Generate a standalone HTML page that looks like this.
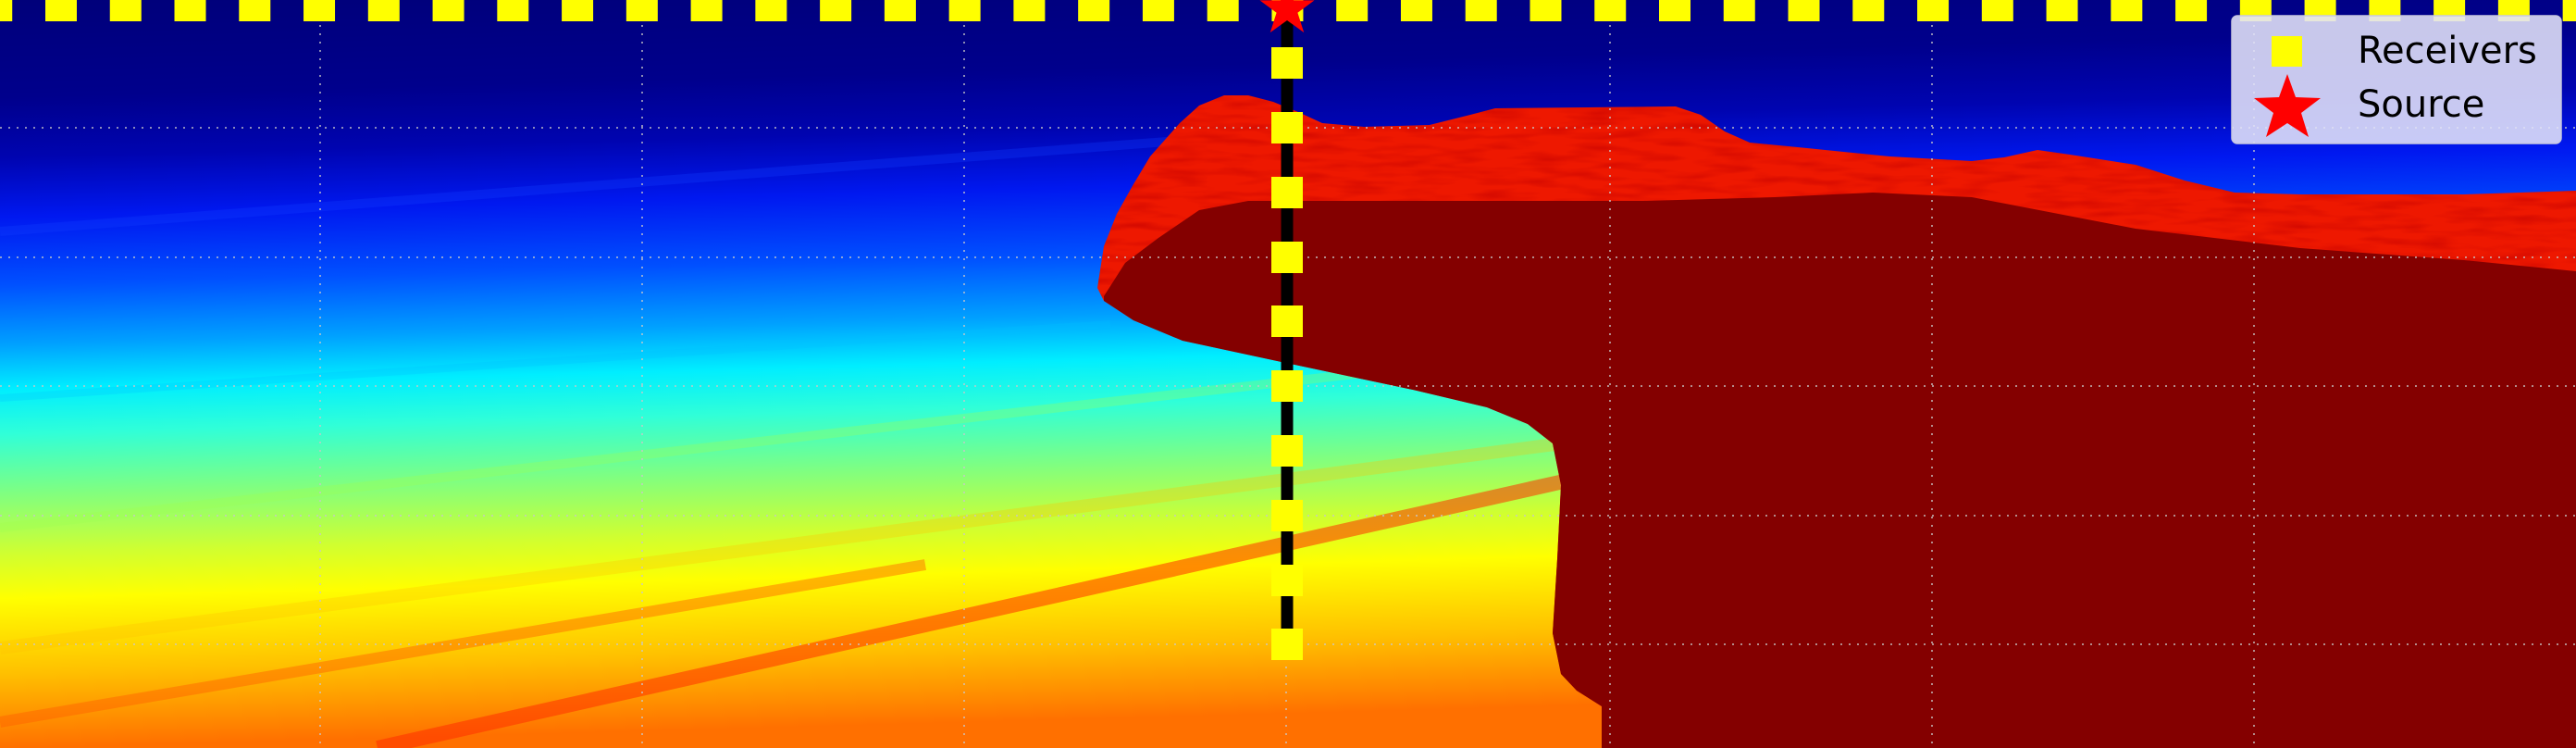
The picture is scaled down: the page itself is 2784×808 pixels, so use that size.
<!DOCTYPE html>
<html><head><meta charset="utf-8"><style>
html,body{margin:0;padding:0;background:#000080;}
svg{display:block;}
text{font-family:"DejaVu Sans","Liberation Sans",sans-serif;}
</style></head><body>
<svg id="chart" width="2784" height="808" viewBox="0 0 2784 808" xmlns="http://www.w3.org/2000/svg">
<defs>
<linearGradient id="sed" gradientUnits="userSpaceOnUse" x1="0" y1="0" x2="22" y2="808">
<stop offset="0" stop-color="#00007a"/>
<stop offset="0.13" stop-color="#00008c"/>
<stop offset="0.21" stop-color="#0004b0"/>
<stop offset="0.29" stop-color="#0018f0"/>
<stop offset="0.38" stop-color="#0050ff"/>
<stop offset="0.46" stop-color="#00a0ff"/>
<stop offset="0.52" stop-color="#00eeff"/>
<stop offset="0.58" stop-color="#30ffd8"/>
<stop offset="0.66" stop-color="#80ff80"/>
<stop offset="0.74" stop-color="#d0ff30"/>
<stop offset="0.8" stop-color="#ffff00"/>
<stop offset="0.9" stop-color="#ffc000"/>
<stop offset="1" stop-color="#ff7000"/>
</linearGradient>
<filter id="noise" x="0" y="0" width="100%" height="100%">
<feTurbulence type="fractalNoise" baseFrequency="0.02 0.12" numOctaves="2" seed="3"/>
<feColorMatrix type="matrix" values="0 0 0 0 0.55  0 0 0 0 0  0 0 0 0 0  0 0 0 1.2 -0.5"/>
</filter>
<clipPath id="saltClip"><polygon id="saltOuterClip" points=""/></clipPath>
</defs>
<rect x="0" y="0" width="2784" height="808" fill="url(#sed)"/>
<g id="bands"></g>
<polygon id="saltOuter" fill="#ee1800" points=""/>
<rect x="1100" y="90" width="1684" height="260" filter="url(#noise)" clip-path="url(#saltClip)"/>
<polygon id="saltInner" fill="#840000" points=""/>
<g id="grid"></g>
<g id="receivers"></g>
<g>
<rect x="2412" y="17" width="356" height="138" rx="6" fill="#e4e4f8" fill-opacity="0.88" stroke="#c8c8e0" stroke-width="1.5"/>
<rect x="2455" y="39" width="33" height="33" fill="#ffff00"/>
<polygon fill="#ff0000" points="2472,80 2481,105 2508,106 2487,122 2495,148 2472,133 2449,148 2457,122 2436,106 2463,105"/>
<text x="2548" y="68" font-size="40" fill="#000">Receivers</text>
<text x="2548" y="126" font-size="40" fill="#000">Source</text>
</g>
</svg>
<script>
// data arrays
const surfaceReceiverIdx = Array.from({length:41},(_,i)=>i);
const wellReceiverDepths = [68,138,208,278,347,417,487,557,627,696];
const gridXTicks = [346,694,1042,1390,1740,2088,2436];
const gridYTicks = [138,278,417,557,696];
const saltOuterPts = [[1186,311],[1193,266],[1207,231],[1225,199],[1243,169],[1275,133],[1296,114],[1323,103],[1349,103],[1376,110],[1403,121],[1429,133],[1474,137],[1545,135],[1589,124],[1616,117],[1811,115],[1838,124],[1864,142],[1891,154],[1953,160],[2042,169],[2131,174],[2166,170],[2202,162],[2237,167],[2308,178],[2361,195],[2415,208],[2486,210],[2663,210],[2784,206],[2784,808],[1731,808],[1731,763],[1704,746],[1687,728],[1678,684],[1683,604],[1687,524],[1678,479],[1651,458],[1607,440],[1527,421],[1385,391],[1278,368],[1225,346],[1193,325]];
const saltInnerPts = [[1193,320],[1216,284],[1252,257],[1296,227],[1349,217],[1776,217],[1918,213],[2024,208],[2131,213],[2308,247],[2486,268],[2663,281],[2784,293],[2784,808],[1731,808],[1731,763],[1704,746],[1687,728],[1678,684],[1683,604],[1687,524],[1678,479],[1651,458],[1607,440],[1527,421],[1385,391],[1278,368],[1225,346],[1193,325]];
const bandLines = [[408,808,1690,520,'#ff3000',16,0.55],[0,780,1000,610,'#ff6000',12,0.45],[0,700,1680,480,'#ffc000',14,0.3],[0,570,1500,400,'#a0ff50',10,0.3],[0,250,1300,150,'#1040ff',10,0.3],[0,430,1200,350,'#00c0ff',8,0.25]];
const NS='http://www.w3.org/2000/svg';
const toStr=p=>p.map(q=>q.join(',')).join(' ');
document.getElementById('saltOuter').setAttribute('points',toStr(saltOuterPts));
document.getElementById('saltOuterClip').setAttribute('points',toStr(saltOuterPts));
document.getElementById('saltInner').setAttribute('points',toStr(saltInnerPts));
const bands=document.getElementById('bands');
bandLines.forEach(b=>{const l=document.createElementNS(NS,'line');


l.setAttribute('x1',b[0]);l.setAttribute('y1',b[1]);l.setAttribute('x2',b[2]);l.setAttribute('y2',b[3]);
l.setAttribute('stroke',b[4]);l.setAttribute('stroke-width',b[5]);l.setAttribute('stroke-opacity',b[6]);bands.appendChild(l);});
const grid=document.getElementById('grid');
gridXTicks.forEach(x=>{const l=document.createElementNS(NS,'line');


l.setAttribute('x1',x);l.setAttribute('x2',x);l.setAttribute('y1',0);l.setAttribute('y2',808);
l.setAttribute('stroke','#c8c8c8');l.setAttribute('stroke-opacity','0.7');l.setAttribute('stroke-width','2');l.setAttribute('stroke-dasharray','2 7');grid.appendChild(l);});
gridYTicks.forEach(y=>{const l=document.createElementNS(NS,'line');


l.setAttribute('x1',0);l.setAttribute('x2',2784);l.setAttribute('y1',y);l.setAttribute('y2',y);
l.setAttribute('stroke','#c8c8c8');l.setAttribute('stroke-opacity','0.7');l.setAttribute('stroke-width','2');l.setAttribute('stroke-dasharray','2 7');grid.appendChild(l);});
const rec=document.getElementById('receivers');
surfaceReceiverIdx.forEach(i=>{const cx=66+69.76*(i-1);const r=document.createElementNS(NS,'rect');


r.setAttribute('x',cx-17);r.setAttribute('y',0);r.setAttribute('width',34);r.setAttribute('height',23);r.setAttribute('fill','#ffff00');rec.appendChild(r);});
const well=document.createElementNS(NS,'line');


well.setAttribute('x1',1391);well.setAttribute('x2',1391);well.setAttribute('y1',10);well.setAttribute('y2',712);well.setAttribute('stroke','#000');well.setAttribute('stroke-width','13');rec.appendChild(well);
wellReceiverDepths.forEach(y=>{const r=document.createElementNS(NS,'rect');


r.setAttribute('x',1374);r.setAttribute('y',y-17);r.setAttribute('width',34);r.setAttribute('height',34);r.setAttribute('fill','#ffff00');rec.appendChild(r);});
const star=document.createElementNS(NS,'polygon');


const pts=[];for(let k=0;k<10;k++){const R=k%2?12:31;const a=-Math.PI/2+k*Math.PI/5;pts.push([1391+R*Math.cos(a),10+R*Math.sin(a)].join(','));}
star.setAttribute('points',pts.join(' '));star.setAttribute('fill','#ff0000');rec.appendChild(star);
</script>
</body></html>
